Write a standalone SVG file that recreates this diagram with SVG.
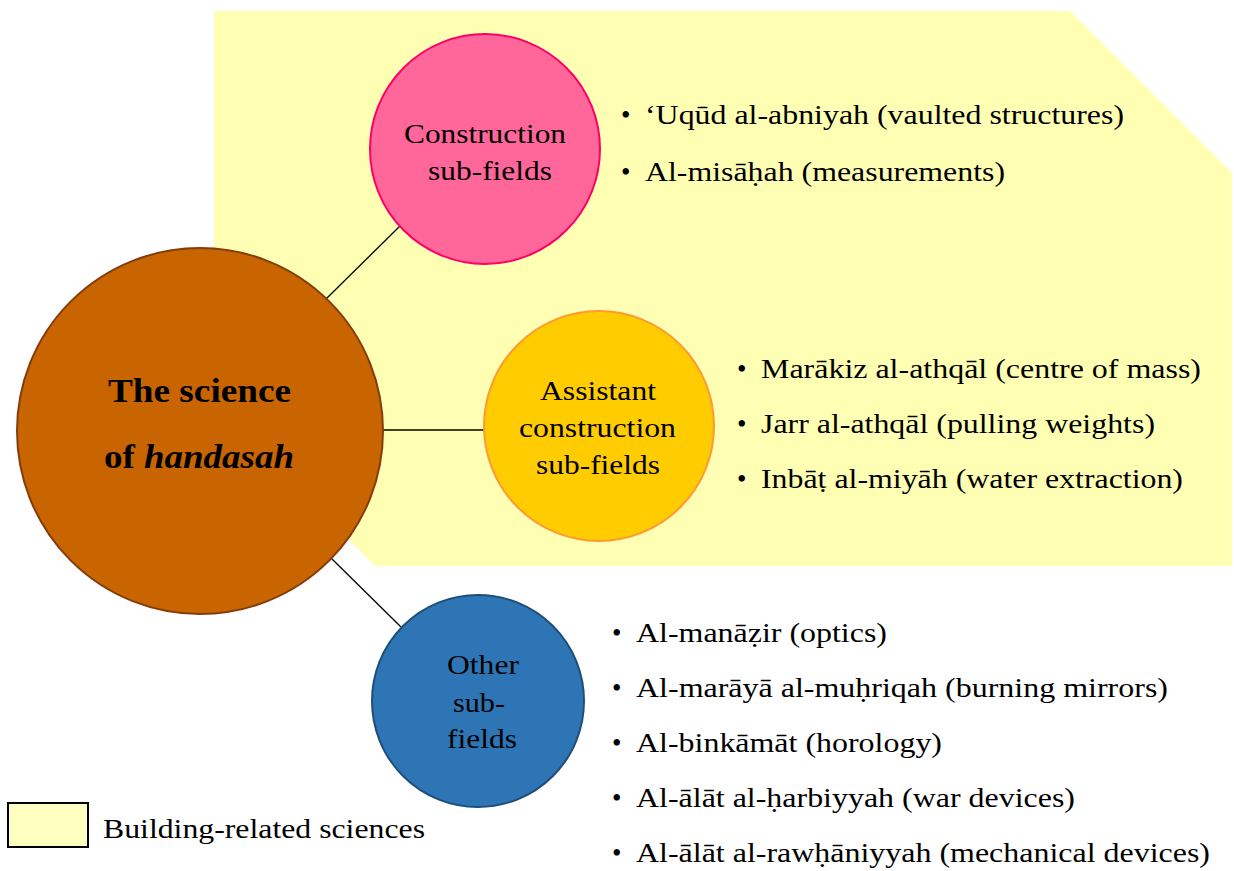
<svg xmlns="http://www.w3.org/2000/svg" width="1234" height="871" viewBox="0 0 1234 871">
<style>
text{font-family:"Liberation Serif","Times New Roman",serif;fill:#000}
.lbl{font-size:27px}
.item{font-size:27px}
.main{font-size:33px;font-weight:bold}
.conn{stroke:#000;stroke-width:1.3;fill:none}
</style>
<rect width="1234" height="871" fill="#fff"/>
<polygon id="building-area" points="214,11 1070,11 1232,173 1232,566 375,566 214,405" fill="#FFFFB4"/>
<g id="connectors">
<line class="conn" x1="326" y1="299" x2="400" y2="226"/>
<line class="conn" x1="383" y1="430" x2="484" y2="430"/>
<line class="conn" x1="330" y1="557" x2="402" y2="628"/>
</g>
<g id="node-handasah">
<circle cx="200" cy="431" r="183" fill="#C96500" stroke="#843C0C" stroke-width="2"/>
<text class="main" x="108" y="402" textLength="183" lengthAdjust="spacingAndGlyphs">The science</text>
<text class="main" x="104" y="468" textLength="190" lengthAdjust="spacingAndGlyphs">of <tspan font-style="italic">handasah</tspan></text>
</g>
<g id="node-construction">
<circle cx="485" cy="149" r="115" fill="#FF6699" stroke="#FF0066" stroke-width="2"/>
<text class="lbl" x="404" y="143" textLength="162" lengthAdjust="spacingAndGlyphs">Construction</text>
<text class="lbl" x="428" y="180" textLength="124" lengthAdjust="spacingAndGlyphs">sub-fields</text>
</g>
<g id="node-assistant">
<circle cx="599" cy="426" r="115" fill="#FFCC00" stroke="#FF9933" stroke-width="2"/>
<text class="lbl" x="540" y="400" textLength="116" lengthAdjust="spacingAndGlyphs">Assistant</text>
<text class="lbl" x="519" y="437" textLength="157" lengthAdjust="spacingAndGlyphs">construction</text>
<text class="lbl" x="536" y="474" textLength="124" lengthAdjust="spacingAndGlyphs">sub-fields</text>
</g>
<g id="node-other">
<circle cx="478" cy="701" r="106" fill="#2E75B6" stroke="#1F4E79" stroke-width="2"/>
<text class="lbl" x="447" y="674" textLength="72" lengthAdjust="spacingAndGlyphs">Other</text>
<text class="lbl" x="453" y="712" textLength="52" lengthAdjust="spacingAndGlyphs">sub-</text>
<text class="lbl" x="447" y="748" textLength="70" lengthAdjust="spacingAndGlyphs">fields</text>
</g>
<g id="list-construction">
<text class="item" x="621" y="124">•</text><text class="item" x="645" y="124" textLength="479" lengthAdjust="spacingAndGlyphs">ʻUqūd al-abniyah (vaulted structures)</text>
<text class="item" x="621" y="181">•</text><text class="item" x="645" y="181" textLength="360" lengthAdjust="spacingAndGlyphs">Al-misāḥah (measurements)</text>
</g>
<g id="list-assistant">
<text class="item" x="737" y="378">•</text><text class="item" x="761" y="378" textLength="440" lengthAdjust="spacingAndGlyphs">Marākiz al-athqāl (centre of mass)</text>
<text class="item" x="737" y="433">•</text><text class="item" x="761" y="433" textLength="394" lengthAdjust="spacingAndGlyphs">Jarr al-athqāl (pulling weights)</text>
<text class="item" x="737" y="488">•</text><text class="item" x="761" y="488" textLength="422" lengthAdjust="spacingAndGlyphs">Inbāṭ al-miyāh (water extraction)</text>
</g>
<g id="list-other">
<text class="item" x="612" y="642">•</text><text class="item" x="636" y="642" textLength="251" lengthAdjust="spacingAndGlyphs">Al-manāẓir (optics)</text>
<text class="item" x="612" y="697">•</text><text class="item" x="636" y="697" textLength="532" lengthAdjust="spacingAndGlyphs">Al-marāyā al-muḥriqah (burning mirrors)</text>
<text class="item" x="612" y="752">•</text><text class="item" x="636" y="752" textLength="306" lengthAdjust="spacingAndGlyphs">Al-binkāmāt (horology)</text>
<text class="item" x="612" y="807">•</text><text class="item" x="636" y="807" textLength="439" lengthAdjust="spacingAndGlyphs">Al-ālāt al-ḥarbiyyah (war devices)</text>
<text class="item" x="612" y="862">•</text><text class="item" x="636" y="862" textLength="574" lengthAdjust="spacingAndGlyphs">Al-ālāt al-rawḥāniyyah (mechanical devices)</text>
</g>
<g id="legend">
<rect x="8" y="803" width="80" height="44" fill="#FFFFC0" stroke="#000" stroke-width="2"/>
<text class="item" x="103" y="838" textLength="322" lengthAdjust="spacingAndGlyphs">Building-related sciences</text>
</g>
</svg>
